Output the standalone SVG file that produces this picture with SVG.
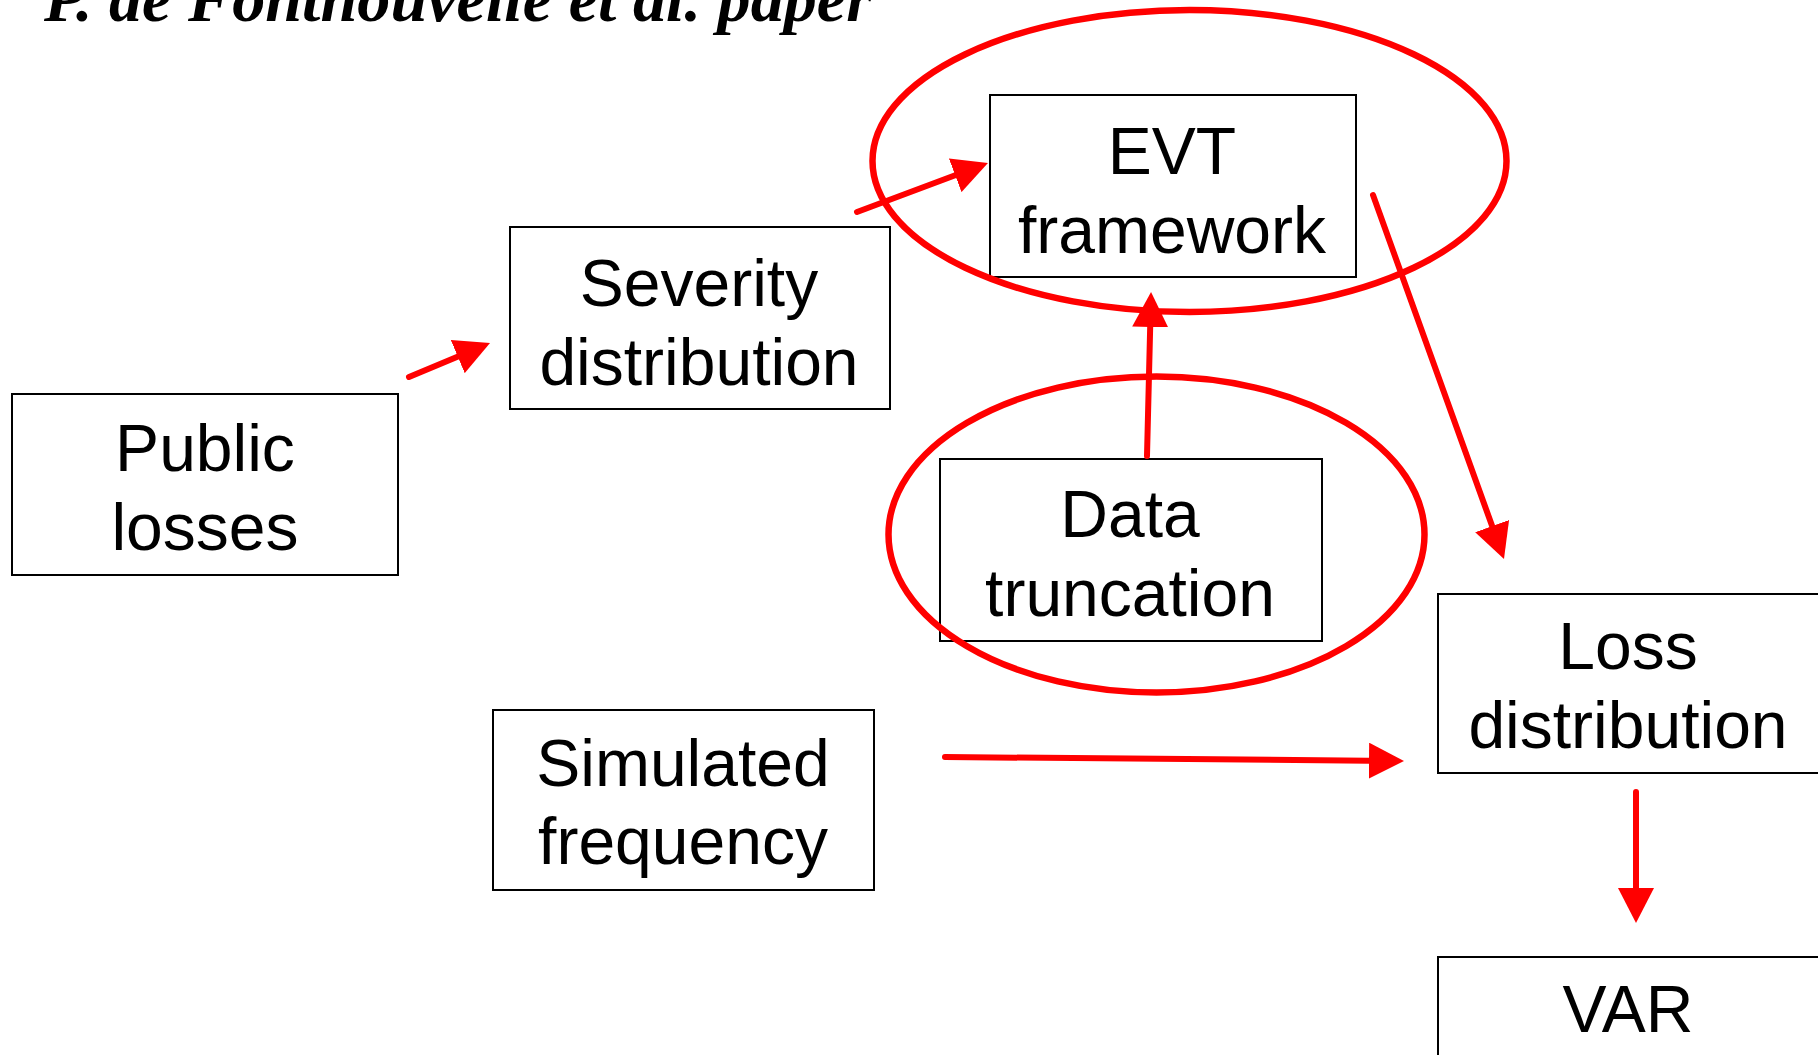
<svg xmlns="http://www.w3.org/2000/svg" width="1818" height="1055" viewBox="0 0 1818 1055">
<style>
  .box { fill: #ffffff; stroke: #000000; stroke-width: 2; }
  .lbl { font-family: "Liberation Sans", Arial, sans-serif; font-size: 66px; fill: #000000; text-anchor: middle; }
  .title { font-family: "Liberation Serif", "Times New Roman", serif; font-size: 66px; font-weight: bold; font-style: italic; fill: #000000; }
  .hl { fill: none; stroke: #ff0000; stroke-width: 6.5; }
  .conn { fill: none; stroke: #ff0000; stroke-width: 6; stroke-linecap: round; marker-end: url(#ah); }
</style>
<defs>
  <marker id="ah" markerUnits="userSpaceOnUse" markerWidth="36" markerHeight="36" refX="25" refY="18" orient="auto" viewBox="0 0 36 36">
    <path d="M0,0 L35,18 L0,36 Z" fill="#ff0000"/>
  </marker>
</defs>
<rect width="1818" height="1055" fill="#ffffff"/>
<text class="title" x="44" y="21" textLength="828" lengthAdjust="spacingAndGlyphs">P. de Fontnouvelle et al. paper</text>

<g id="public-losses">
  <rect class="box" x="12" y="394" width="386" height="181"/>
  <text class="lbl" x="205" y="471">Public</text>
  <text class="lbl" x="205" y="550">losses</text>
</g>
<g id="severity-distribution">
  <rect class="box" x="510" y="227" width="380" height="182"/>
  <text class="lbl" x="699" y="306">Severity</text>
  <text class="lbl" x="699" y="385">distribution</text>
</g>
<g id="evt-framework">
  <rect class="box" x="990" y="95" width="366" height="182"/>
  <text class="lbl" x="1172" y="174">EVT</text>
  <text class="lbl" x="1172" y="253">framework</text>
</g>
<g id="data-truncation">
  <rect class="box" x="940" y="459" width="382" height="182"/>
  <text class="lbl" x="1130" y="537">Data</text>
  <text class="lbl" x="1130" y="616">truncation</text>
</g>
<g id="simulated-frequency">
  <rect class="box" x="493" y="710" width="381" height="180"/>
  <text class="lbl" x="683" y="786">Simulated</text>
  <text class="lbl" x="683" y="864">frequency</text>
</g>
<g id="loss-distribution">
  <rect class="box" x="1438" y="594" width="384" height="179"/>
  <text class="lbl" x="1628" y="669">Loss</text>
  <text class="lbl" x="1628" y="748">distribution</text>
</g>
<g id="var">
  <rect class="box" x="1438" y="957" width="384" height="110"/>
  <text class="lbl" x="1628" y="1032">VAR</text>
</g>

<g id="highlights">
  <ellipse class="hl" cx="1189.5" cy="161" rx="317" ry="151"/>
  <ellipse class="hl" cx="1156.5" cy="534.5" rx="268" ry="158"/>
</g>

<g id="connectors">
  <path class="conn" d="M409,377 L480.8,346.9"/>
  <path class="conn" d="M857,212 L978.6,166.5"/>
  <path class="conn" d="M1147,456 L1150.8,302"/>
  <path class="conn" d="M1373,195 L1500.6,549.6"/>
  <path class="conn" d="M945,757 L1394,760.9"/>
  <path class="conn" d="M1636,792 L1636,913"/>
</g>
</svg>
